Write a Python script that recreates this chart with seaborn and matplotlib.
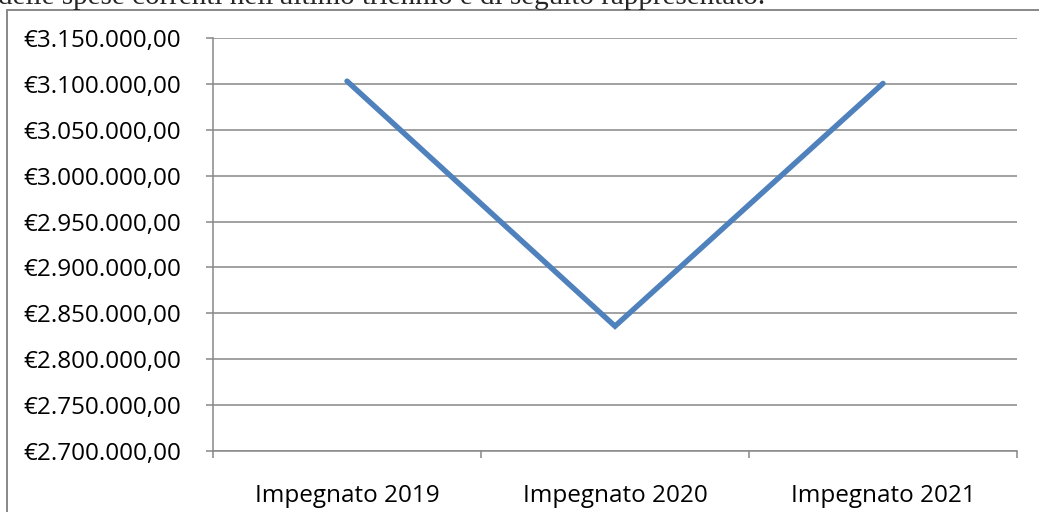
import matplotlib
matplotlib.use("Agg")
import matplotlib.pyplot as plt
import matplotlib.ticker as mticker
from matplotlib.patches import Rectangle
import seaborn as sns

# data
categories = ["Impegnato 2019", "Impegnato 2020", "Impegnato 2021"]
impegnato = [3103000, 2836000, 3100500]
y_ticks = list(range(2700000, 3150001, 50000))

sns.set_style("white")
plt.rcParams["font.family"] = ["Open Sans", "DejaVu Sans"]

GRAY = "#888888"
BLUE = "#4F81BD"

fig = plt.figure(figsize=(10.39, 5.12), dpi=100)
ax = fig.add_axes([213 / 1039, 1 - 451 / 512, (1017 - 213) / 1039, (451 - 38) / 512])

sns.lineplot(x=categories, y=impegnato, ax=ax, color=BLUE, linewidth=3.9,
             sort=False, solid_capstyle="round", solid_joinstyle="miter")


def euro_it(v, pos=None):
    s = "{:,.2f}".format(v)
    s = s.replace(",", "X").replace(".", ",").replace("X", ".")
    return "€" + s


ax.set_ylim(y_ticks[0], y_ticks[-1])
ax.set_yticks(y_ticks)
ax.yaxis.set_major_formatter(mticker.FuncFormatter(euro_it))
ax.set_xlim(-0.5, len(categories) - 0.5)
ax.set_xticks(range(len(categories)))
ax.set_xticks([i - 0.5 for i in range(len(categories) + 1)], minor=True)

ax.grid(axis="y", color=GRAY, linewidth=1.1)
ax.set_axisbelow(True)
for side in ["top", "right"]:
    ax.spines[side].set_visible(False)
for side in ["left", "bottom"]:
    ax.spines[side].set_color(GRAY)
    ax.spines[side].set_linewidth(1.1)

ax.tick_params(axis="y", which="major", left=True, length=5, width=1.1,
               color=GRAY, labelsize=17.5, pad=18, labelcolor="black")
ax.tick_params(axis="x", which="major", bottom=False, labelsize=17.5, pad=20,
               labelcolor="black")
ax.tick_params(axis="x", which="minor", bottom=True, length=5, width=1.1, color=GRAY)
ax.set_xlabel("")
ax.set_ylabel("")

# chart frame (cut off on the right and bottom) and the page text above it
fig.add_artist(Rectangle((7 / 1039, -0.1), 1.2, 1.1 - 10 / 512,
                         transform=fig.transFigure, fill=False,
                         edgecolor=GRAY, linewidth=1.4))
fig.text(-0.002, 1 - 4 / 512,
         "delle spese correnti nell'ultimo triennio è di seguito rappresentato.",
         family="Liberation Serif", fontsize=21, ha="left", va="baseline")

fig.savefig("out.png", dpi=100)
